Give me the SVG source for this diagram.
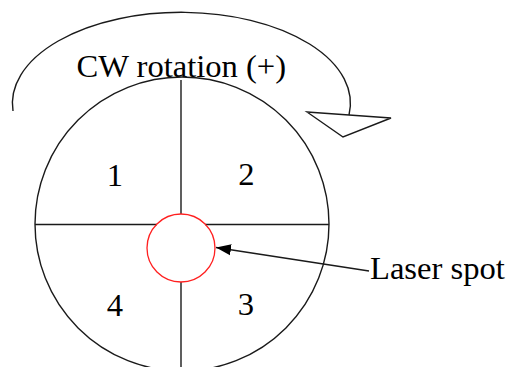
<svg xmlns="http://www.w3.org/2000/svg" width="509" height="367" viewBox="0 0 509 367">
  <style>
    .ln { fill: none; stroke: #1a1a1a; stroke-width: 1.4; }
    .lbl { font-family: "Liberation Serif", "Times New Roman", serif; font-size: 32.6px; fill: #000; }
    .num { font-family: "Liberation Serif", "Times New Roman", serif; font-size: 32.6px; fill: #000; text-anchor: middle; }
  </style>
  <defs>
    <marker id="ah" markerWidth="16" markerHeight="12" refX="15" refY="6" orient="auto" markerUnits="userSpaceOnUse">
      <path d="M0,0.5 L15,6 L0,11.5 Z" fill="#000"/>
    </marker>
  </defs>
  <rect width="509" height="367" fill="#fff"/>

  <g id="rotation">
    <path class="ln" d="M13,111 A169,91 0 1 1 349,115"/>
    <polygon class="ln" points="307,112 391,118 343,137" fill="#fff"/>
    <text class="lbl" x="76.5" y="77">CW rotation (+)</text>
  </g>

  <g id="disk">
    <circle class="ln" cx="182" cy="224" r="147"/>
    <line class="ln" x1="181" y1="80" x2="181" y2="214"/>
    <line class="ln" x1="181" y1="282" x2="181" y2="367"/>
    <line class="ln" x1="35" y1="224.5" x2="157" y2="224.5"/>
    <line class="ln" x1="205" y1="224.5" x2="329" y2="224.5"/>
  </g>

  <g id="q1"><text class="num" x="115" y="186">1</text></g>
  <g id="q2"><text class="num" x="246.5" y="185">2</text></g>
  <g id="q3"><text class="num" x="246" y="315">3</text></g>
  <g id="q4"><text class="num" x="115" y="316">4</text></g>

  <g id="laser-spot">
    <circle cx="181" cy="248" r="34" fill="none" stroke="#ff2020" stroke-width="1.3"/>
  </g>

  <g id="laser-label">
    <text class="lbl" x="370" y="279">Laser spot</text>
  </g>

  <g id="connectors">
    <line class="ln" stroke-width="2" x1="369" y1="271" x2="216" y2="247.5" marker-end="url(#ah)"/>
  </g>
</svg>
